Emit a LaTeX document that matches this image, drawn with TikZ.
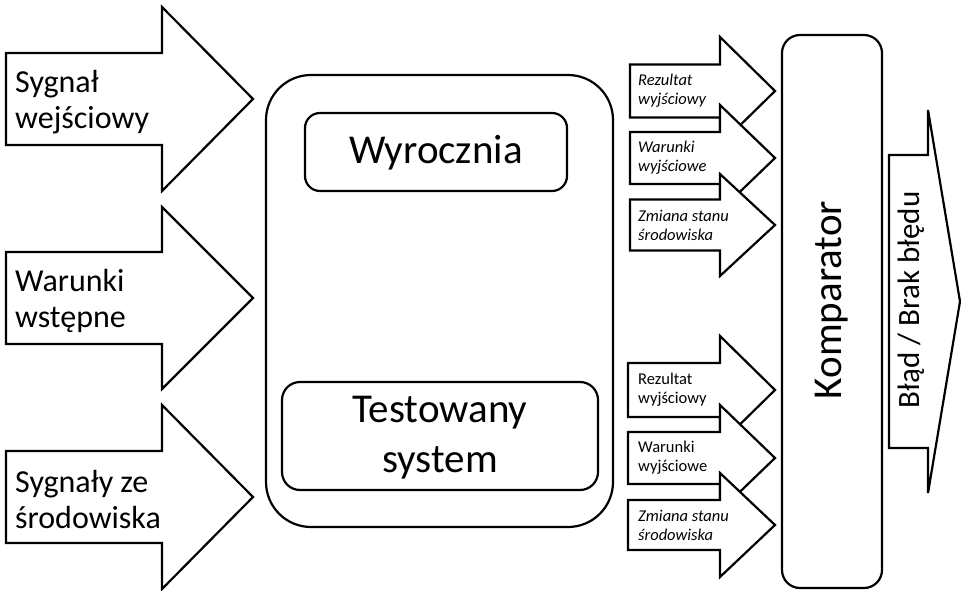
\documentclass[tikz,border=0pt]{standalone}
\usepackage{fontspec}
\setmainfont{Carlito}
\newcommand{\blockarrow}[7]{%
  % #1 name, #2 x body start, #3 x head start, #4 x tip, #5 y centre, #6 body half, #7 head half
  \draw[arrowbox] (#2,#5-#6) -- (#3,#5-#6) -- (#3,#5-#7) -- (#4,#5) -- (#3,#5+#7) -- (#3,#5+#6) -- (#2,#5+#6) -- cycle;
  \coordinate (#1) at (#2,#5);
}
\begin{document}
\begin{tikzpicture}[x=1pt,y=-1pt,
  arrowbox/.style={draw=black,fill=white,line width=2.2pt,line join=miter},
  roundbox/.style={draw=black,fill=white,line width=2.2pt},
  biglabel/.style={anchor=west,align=left,inner sep=0pt,font=\fontsize{32}{36}\selectfont},
  smalllabel/.style={anchor=west,align=left,inner sep=0pt,font=\fontsize{16.5}{19}\selectfont},
  smallital/.style={smalllabel,font=\fontsize{16.5}{19}\selectfont\itshape},
  titletext/.style={align=center,inner sep=0pt,font=\fontsize{41}{50}\selectfont}]
\useasboundingbox (0,0) rectangle (961,591);
% left input arrows
\blockarrow{in1}{6}{162}{253}{99}{46}{92}
\node[biglabel] (t1) at ([xshift=9pt,yshift=-3pt]in1) {Sygnał\\wejściowy};
\blockarrow{in2}{6}{162}{253}{298}{46}{91}
\node[biglabel] (t2) at ([xshift=9pt,yshift=-3pt]in2) {Warunki\\wstępne};
\blockarrow{in3}{6}{162}{253}{497}{46}{92}
\node[biglabel] (t3) at ([xshift=9pt,yshift=-3pt]in3) {Sygnały ze\\środowiska};
% main box
\draw[roundbox,rounded corners=45pt] (266,75) rectangle (613,527);
\draw[roundbox,rounded corners=15pt] (305,113) rectangle (567,191);
\node[titletext] (wyr) at (436,153) {Wyrocznia};
\draw[roundbox,rounded corners=18pt] (282,382) rectangle (598,490);
\node[titletext] (sut) at (440,438) {Testowany\\system};
% small output arrows, top group
\blockarrow{o1}{630}{720}{775}{91}{26.5}{54}
\node[smallital] (s1) at ([xshift=8pt]o1) {Rezultat\\wyjściowy};
\blockarrow{o2}{630}{720}{775}{158}{26}{53}
\node[smallital] (s2) at ([xshift=8pt]o2) {Warunki\\wyjściowe};
\blockarrow{o3}{630}{720}{775}{225}{25.5}{51}
\node[smallital] (s3) at ([xshift=8pt]o3) {Zmiana stanu\\środowiska};
% small output arrows, bottom group
\blockarrow{o4}{628}{720}{775}{390}{27}{54}
\node[smalllabel] (s4) at ([xshift=10pt]o4) {Rezultat\\wyjściowy};
\blockarrow{o5}{628}{720}{775}{458}{26}{53}
\node[smalllabel] (s5) at ([xshift=10pt]o5) {Warunki\\wyjściowe};
\blockarrow{o6}{628}{720}{775}{525}{25}{52}
\node[smallital] (s6) at ([xshift=10pt]o6) {Zmiana stanu\\środowiska};
% comparator
\draw[roundbox,rounded corners=18pt] (782,35) rectangle (882,588);
\node[titletext,rotate=90] (komp) at (832,300) {Komparator};
% result arrow
\draw[arrowbox] (889,155) -- (928,155) -- (928,110) -- (960,301.5) -- (928,493) -- (928,448) -- (889,448) -- cycle;
\node[inner sep=0pt,rotate=90,font=\fontsize{31}{36}\selectfont] (res) at (911,300) {Błąd / Brak błędu};
\end{tikzpicture}
\end{document}
